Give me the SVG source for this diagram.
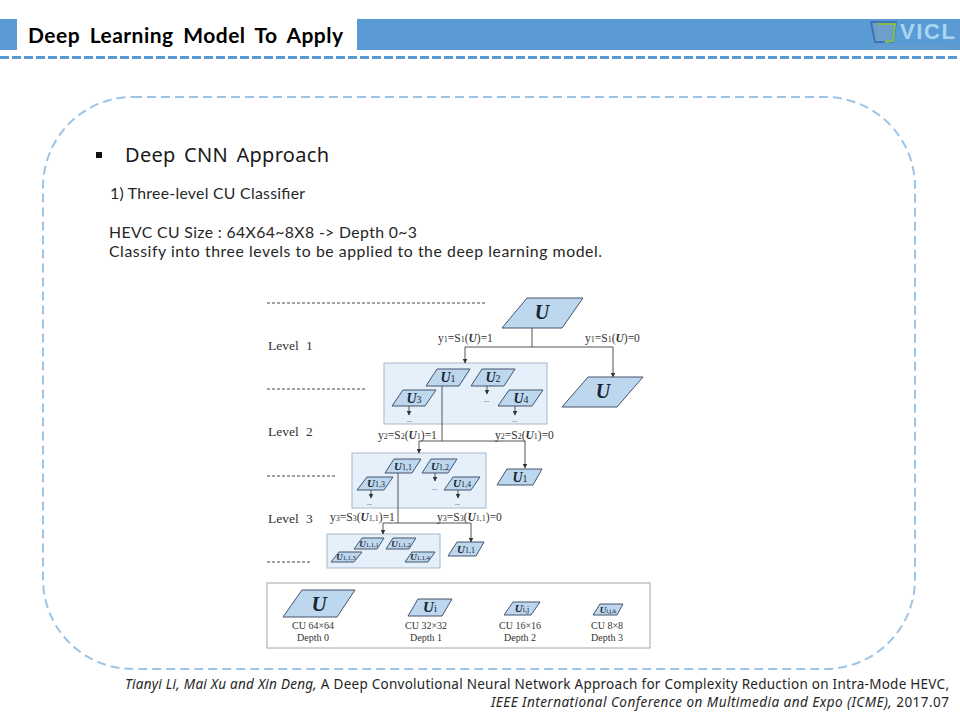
<svg xmlns="http://www.w3.org/2000/svg" width="960" height="720" viewBox="0 0 960 720">
<style>
text{font-family:"Noto Sans","Open Sans","Liberation Sans",sans-serif;fill:#1a1a1a}
.bar{fill:#5b9bd5}
.body{font-family:Lato,"Noto Sans",sans-serif;font-size:15.800px;fill:#262626}
.foot{font-size:13.500px;fill:#262626}
.s{font-family:"Liberation Serif","Times New Roman",serif;fill:#333}
.m{font-family:"Liberation Serif","Times New Roman",serif;font-weight:bold;font-style:italic;fill:#1a2430}
.n{font-weight:normal;font-style:normal}
.p{fill:#bdd7ee;stroke:#44546a;stroke-width:1}
.box{fill:#e6f0fa;stroke:#a9b8c6;stroke-width:1}
.c{fill:none;stroke:#555;stroke-width:1}
.d{fill:none;stroke:#444;stroke-width:1;stroke-dasharray:3 2}
</style>
<defs>
<marker id="a" markerUnits="userSpaceOnUse" markerWidth="5" markerHeight="5" refX="4.500" refY="2.500" orient="auto"><path d="M0 0L5 2.500L0 5Z" fill="#333"/></marker>
</defs>
<g id="header">
<rect class="bar" x="0" y="19" width="17" height="31"/>
<rect class="bar" x="357" y="19" width="603" height="31"/>
<line x1="0" y1="57.500" x2="960" y2="57.500" stroke="#5b9bd5" stroke-width="3" stroke-dasharray="9 3"/>
<text x="28" y="43" font-size="21" font-weight="bold" word-spacing="4" textLength="315" style="font-family:Lato,'Noto Sans',sans-serif;fill:#000">Deep Learning Model To Apply</text>
</g>
<g id="logo">
<path d="M871 22L896 22L893 42L875 42Z" fill="#6f9fc8" stroke="#3f74b5" stroke-width="2"/>
<path d="M878 24L895 24L893 41L885 42" fill="none" stroke="#86bd4f" stroke-width="2"/>
<text x="900" y="39" font-size="22" font-weight="bold" textLength="55" style="font-family:'Liberation Sans',sans-serif;fill:#a9d6f2">VICL</text>
<text x="871" y="48.500" font-size="4.500" textLength="83" style="fill:#7f9db8">Visual Information Computing Lab</text>
</g>
<rect id="frame" x="43" y="97" width="872" height="572" rx="90" ry="90" fill="none" stroke="#9dc3e6" stroke-width="2" stroke-dasharray="9 5"/>
<g id="intro">
<rect x="96" y="152" width="6" height="6" fill="#111"/>
<text x="125" y="162" font-size="20" word-spacing="3" textLength="204">Deep CNN Approach</text>
<text class="body" x="110" y="199" textLength="195">1) Three-level CU Classifier</text>
<text class="body" x="109" y="238" textLength="308">HEVC CU Size : 64X64~8X8 -&gt; Depth 0~3</text>
<text class="body" x="109" y="257" textLength="493">Classify into three levels to be applied to the deep learning model.</text>
</g>
<g id="levels">
<line class="d" x1="267" y1="303" x2="486" y2="303"/>
<line class="d" x1="267" y1="389" x2="367" y2="389"/>
<line class="d" x1="267" y1="476" x2="335" y2="476"/>
<line class="d" x1="267" y1="562" x2="312" y2="562"/>
<text class="s" x="268" y="350" font-size="13.500" word-spacing="4">Level 1</text>
<text class="s" x="268" y="436" font-size="13.500" word-spacing="4">Level 2</text>
<text class="s" x="268" y="523" font-size="13.500" word-spacing="4">Level 3</text>
</g>
<g id="box-level2"><rect class="box" x="384" y="363" width="163" height="61"/></g>
<g id="box-level3"><rect class="box" x="352" y="453" width="134" height="55"/></g>
<g id="box-level4"><rect class="box" x="327" y="534" width="113" height="34"/></g>
<g id="connectors">
<path class="c" d="M532 328V347"/>
<path class="c" d="M465 347H613" />
<path class="c" d="M465 347V363" marker-end="url(#a)"/>
<path class="c" d="M613 347V377" marker-end="url(#a)"/>
<path class="c" d="M442 386V441"/>
<path class="c" d="M419 441H525"/>
<path class="c" d="M419 441V453" marker-end="url(#a)"/>
<path class="c" d="M525 441V468" marker-end="url(#a)"/>
<path class="c" d="M398 473V523"/>
<path class="c" d="M383 523H471"/>
<path class="c" d="M383 523V534" marker-end="url(#a)"/>
<path class="c" d="M471 523V542" marker-end="url(#a)"/>
<path class="c" d="M487 386V394" marker-end="url(#a)"/>
<path class="c" d="M409 406V415" marker-end="url(#a)"/>
<path class="c" d="M515 406V415" marker-end="url(#a)"/>
<path class="c" d="M435 473V481" marker-end="url(#a)"/>
<path class="c" d="M371 490V498" marker-end="url(#a)"/>
<path class="c" d="M458 490V498" marker-end="url(#a)"/>
</g>
<g id="edge-labels">
<text class="s" x="438" y="342" font-size="11.500">y<tspan font-size="8">1</tspan>=S<tspan font-size="8">1</tspan>(<tspan font-weight="bold" font-style="italic">U</tspan>)=1</text>
<text class="s" x="585" y="342" font-size="11.500">y<tspan font-size="8">1</tspan>=S<tspan font-size="8">1</tspan>(<tspan font-weight="bold" font-style="italic">U</tspan>)=0</text>
<text class="s" x="378" y="439" font-size="11.500">y<tspan font-size="8">2</tspan>=S<tspan font-size="8">2</tspan>(<tspan font-weight="bold" font-style="italic">U</tspan><tspan font-size="8">1</tspan>)=1</text>
<text class="s" x="495" y="439" font-size="11.500">y<tspan font-size="8">2</tspan>=S<tspan font-size="8">2</tspan>(<tspan font-weight="bold" font-style="italic">U</tspan><tspan font-size="8">1</tspan>)=0</text>
<text class="s" x="330" y="521" font-size="11.500">y<tspan font-size="8">3</tspan>=S<tspan font-size="8">3</tspan>(<tspan font-weight="bold" font-style="italic">U</tspan><tspan font-size="8">1,1</tspan>)=1</text>
<text class="s" x="437" y="521" font-size="11.500">y<tspan font-size="8">3</tspan>=S<tspan font-size="8">3</tspan>(<tspan font-weight="bold" font-style="italic">U</tspan><tspan font-size="8">1,1</tspan>)=0</text>
<text class="s" x="407" y="422" font-size="7">...</text>
<text class="s" x="484" y="402" font-size="7">...</text>
<text class="s" x="512" y="422" font-size="7">...</text>
<text class="s" x="367" y="505" font-size="7">...</text>
<text class="s" x="432" y="490" font-size="7">...</text>
<text class="s" x="455" y="505" font-size="7">...</text>
</g>
<g id="node-u-top"><polygon class="p" points="502,328 527,298 583,298 562,328"/><text class="m" x="542" y="319" font-size="20" text-anchor="middle">U</text></g>
<g id="node-u-leaf"><polygon class="p" points="562,407 588,377 643,377 617,407"/><text class="m" x="603" y="398" font-size="20" text-anchor="middle">U</text></g>
<g id="node-u1"><polygon class="p" points="426,386 437,369 470,369 459,386"/><text class="m" x="448" y="382" font-size="14" text-anchor="middle">U<tspan class="n" font-size="10">1</tspan></text></g>
<g id="node-u2"><polygon class="p" points="471,386 482,369 515,369 504,386"/><text class="m" x="493" y="382" font-size="14" text-anchor="middle">U<tspan class="n" font-size="10">2</tspan></text></g>
<g id="node-u3"><polygon class="p" points="392,406 403,390 436,390 425,406"/><text class="m" x="414" y="403" font-size="14" text-anchor="middle">U<tspan class="n" font-size="10">3</tspan></text></g>
<g id="node-u4"><polygon class="p" points="498,406 509,390 543,390 532,406"/><text class="m" x="521" y="403" font-size="14" text-anchor="middle">U<tspan class="n" font-size="10">4</tspan></text></g>
<g id="node-u1-leaf"><polygon class="p" points="497,485 507,469 542,469 533,485"/><text class="m" x="520" y="482" font-size="14" text-anchor="middle">U<tspan class="n" font-size="10">1</tspan></text></g>
<g id="node-u11"><polygon class="p" points="385,473 394,459 421,459 412,473"/><text class="m" x="403" y="470" font-size="11" text-anchor="middle">U<tspan class="n" font-size="8">1,1</tspan></text></g>
<g id="node-u12"><polygon class="p" points="422,473 431,459 457,459 448,473"/><text class="m" x="440" y="470" font-size="11" text-anchor="middle">U<tspan class="n" font-size="8">1,2</tspan></text></g>
<g id="node-u13"><polygon class="p" points="357,490 367,477 393,477 384,490"/><text class="m" x="376" y="487" font-size="11" text-anchor="middle">U<tspan class="n" font-size="8">1,3</tspan></text></g>
<g id="node-u14"><polygon class="p" points="444,490 453,477 480,477 471,490"/><text class="m" x="462" y="487" font-size="11" text-anchor="middle">U<tspan class="n" font-size="8">1,4</tspan></text></g>
<g id="node-u11-leaf"><polygon class="p" points="448,556 457,542 484,542 476,556"/><text class="m" x="466" y="553" font-size="11" text-anchor="middle">U<tspan class="n" font-size="8">1,1</tspan></text></g>
<g id="node-u111"><polygon class="p" points="354,549 362,538 384,538 377,549"/><text class="m" x="369" y="547" font-size="9" text-anchor="middle">U<tspan class="n" font-size="6.500">1,1,1</tspan></text></g>
<g id="node-u112"><polygon class="p" points="386,549 393,538 416,538 409,549"/><text class="m" x="401" y="547" font-size="9" text-anchor="middle">U<tspan class="n" font-size="6.500">1,1,2</tspan></text></g>
<g id="node-u113"><polygon class="p" points="331,562 339,552 362,552 354,562"/><text class="m" x="346" y="560" font-size="9" text-anchor="middle">U<tspan class="n" font-size="6.500">1,1,3</tspan></text></g>
<g id="node-u114"><polygon class="p" points="405,562 412,552 435,552 428,562"/><text class="m" x="420" y="560" font-size="9" text-anchor="middle">U<tspan class="n" font-size="6.500">1,1,4</tspan></text></g>
<g id="legend">
<rect x="267" y="583" width="383" height="65" fill="#fff" stroke="#a6a6a6" stroke-width="1"/>
<polygon class="p" points="283,617 302,590 355,590 337,617"/>
<text class="m" x="319" y="611" font-size="21" text-anchor="middle">U</text>
<text class="s" x="313" y="629" font-size="10" text-anchor="middle">CU 64×64</text>
<text class="s" x="313" y="641" font-size="10" text-anchor="middle">Depth 0</text>
<polygon class="p" points="408,616 418,599 452,599 442,616"/>
<text class="m" x="430" y="612" font-size="15" text-anchor="middle">U<tspan class="n" font-size="11">i</tspan></text>
<text class="s" x="426" y="629" font-size="10" text-anchor="middle">CU 32×32</text>
<text class="s" x="426" y="641" font-size="10" text-anchor="middle">Depth 1</text>
<polygon class="p" points="504,615 513,602 540,602 531,615"/>
<text class="m" x="522" y="612" font-size="11" text-anchor="middle">U<tspan class="n" font-size="8">i,j</tspan></text>
<text class="s" x="520" y="629" font-size="10" text-anchor="middle">CU 16×16</text>
<text class="s" x="520" y="641" font-size="10" text-anchor="middle">Depth 2</text>
<polygon class="p" points="593,615 600,604 623,604 617,615"/>
<text class="m" x="608" y="613" font-size="9" text-anchor="middle">U<tspan class="n" font-size="6.500">i,j,k</tspan></text>
<text class="s" x="607" y="629" font-size="10" text-anchor="middle">CU 8×8</text>
<text class="s" x="607" y="641" font-size="10" text-anchor="middle">Depth 3</text>
</g>
<g id="citation">
<text class="foot" x="125" y="689" textLength="824"><tspan font-style="italic">Tianyi Li, Mai Xu and Xin Deng, </tspan>A Deep Convolutional Neural Network Approach for Complexity Reduction on Intra-Mode HEVC,</text>
<text class="foot" x="491" y="707" textLength="458"><tspan font-style="italic">IEEE International Conference on Multimedia and Expo (ICME), </tspan>2017.07</text>
</g>
</svg>
